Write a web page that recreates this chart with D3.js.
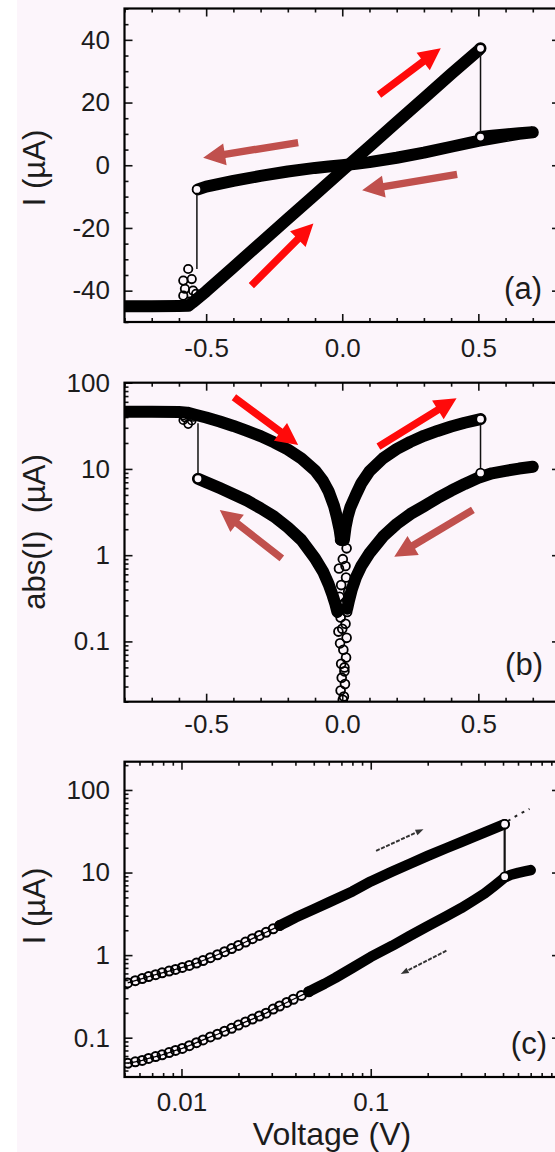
<!DOCTYPE html>
<html>
<head>
<meta charset="utf-8">
<script src="https://cdn.jsdelivr.net/npm/d3@7"></script>
<style>
  html, body { margin: 0; padding: 0; background: #fff; }
  svg { display: block; }
  text { font-family: "Liberation Sans", Arial, Helvetica, sans-serif; fill: #1c1c1c; }
</style>
</head>
<body>
<svg id="fig" width="555" height="1152"></svg>
<script>
// ---------- panel (a): I-V loop, linear axes ----------
const V_ON_A = [-0.80, -0.70, -0.60, -0.565, -0.55, -0.50, -0.40, -0.30, -0.20, -0.10, 0.00, 0.10, 0.20, 0.30, 0.40, 0.50, 0.508];
const I_ON_A = [-45.0, -45.0, -44.9, -44.8, -43.8, -40.2, -32.5, -24.8, -17.1, -9.4, -1.7, 6.0, 13.7, 21.4, 29.1, 36.6, 37.3];
const V_OFF_A = [0.508, 0.55, 0.60, 0.65, 0.70, 0.65, 0.60, 0.50, 0.40, 0.30, 0.20, 0.10, 0.05, 0.00, -0.05, -0.10, -0.20, -0.30, -0.40, -0.50, -0.53];
const I_OFF_A = [9.0, 9.4, 9.8, 10.2, 10.5, 10.0, 9.3, 7.8, 5.9, 4.0, 2.4, 1.0, 0.45, 0.0, -0.4, -0.85, -2.0, -3.4, -5.0, -6.8, -7.7];
// scattered points while switching back on at negative bias
const V_SET_A = [-0.566, -0.584, -0.553, -0.578, -0.548, -0.584, -0.537, -0.562];
const I_SET_A = [-33.1, -36.8, -36.3, -39.4, -40.0, -41.6, -41.0, -43.5];
// switching steps: [V, I from, I to]
const STEP_POS_A = [0.508, 37.3, 9.0];
const STEP_NEG_A = [-0.534, -7.7, -33.1];

// ---------- panel (b): |I| on log axis ----------
const V_ON_B = [-0.80, -0.70, -0.60, -0.57, -0.54, -0.50, -0.45, -0.40, -0.35, -0.30, -0.25, -0.20, -0.15, -0.10, -0.07, -0.05, -0.03, -0.02, -0.01, -0.004];
const I_ON_B = [46, 46, 45.8, 45, 42.5, 39.5, 35.5, 31.5, 27.6, 24.0, 20.3, 16.8, 13.2, 9.6, 7.2, 5.5, 3.7, 2.8, 2.0, 1.5];
const V_ON_B2 = [0.006, 0.012, 0.02, 0.03, 0.05, 0.07, 0.10, 0.15, 0.20, 0.25, 0.30, 0.35, 0.40, 0.45, 0.508];
const I_ON_B2 = [1.5, 2.1, 2.8, 3.6, 5.0, 6.8, 9.4, 13.3, 17.0, 20.6, 24.2, 27.6, 31.0, 34.3, 37.8];
const V_OFF_BL = [-0.53, -0.50, -0.45, -0.40, -0.35, -0.30, -0.25, -0.20, -0.15, -0.10, -0.07, -0.05, -0.035, -0.025, -0.018];
const I_OFF_BL = [7.7, 7.0, 6.0, 5.1, 4.3, 3.5, 2.8, 2.1, 1.5, 0.92, 0.64, 0.46, 0.34, 0.27, 0.22];
const V_OFF_BR = [0.018, 0.025, 0.035, 0.05, 0.07, 0.10, 0.15, 0.20, 0.25, 0.30, 0.35, 0.40, 0.45, 0.50, 0.55, 0.60, 0.65, 0.70];
const I_OFF_BR = [0.24, 0.30, 0.40, 0.55, 0.75, 1.05, 1.65, 2.3, 3.0, 3.7, 4.6, 5.6, 6.7, 7.9, 8.9, 9.5, 10.1, 10.6];
// points around zero bias
const V_ZERO_B = [0.006, -0.008, 0.016, 0.002, -0.012, 0.014, -0.004, 0.022, -0.010, 0.010, 0.018, -0.006, 0.012, -0.014, 0.016, -0.008, 0.004, 0.014, -0.004, 0.008, -0.002, 0.010, -0.006, 0.006, 0.002, 0.012, -0.010, 0.018, 0.000, 0.008];
const I_ZERO_B = [2.0, 1.5, 1.2, 0.9, 0.7, 0.55, 0.45, 0.38, 0.33, 0.28, 0.22, 0.19, 0.16, 0.13, 0.11, 0.095, 0.08, 0.065, 0.055, 0.045, 0.038, 0.032, 0.027, 0.023, 0.021, 0.75, 0.24, 0.3, 0.14, 0.05];
const STEP_POS_B = [0.508, 37.8, 9.0];
const STEP_NEG_B = [-0.53, 7.7, 33.8];

// ---------- panel (c): positive bias on log-log axes ----------
const V_ON_C = [0.0052, 0.0057, 0.0062, 0.0067, 0.0073, 0.0079, 0.0086, 0.0093, 0.0101, 0.011, 0.012, 0.013, 0.0142, 0.0155, 0.0169, 0.0184, 0.020, 0.0218, 0.0237, 0.0258, 0.028, 0.0305, 0.033, 0.036, 0.040, 0.05, 0.06, 0.08, 0.10, 0.13, 0.16, 0.20, 0.25, 0.30, 0.35, 0.40, 0.45, 0.51];
const I_ON_C = [0.46, 0.49, 0.52, 0.55, 0.58, 0.61, 0.64, 0.67, 0.71, 0.75, 0.80, 0.86, 0.93, 1.01, 1.10, 1.20, 1.31, 1.44, 1.58, 1.73, 1.89, 2.08, 2.28, 2.52, 2.85, 3.6, 4.35, 5.9, 7.8, 10.3, 12.7, 15.9, 19.7, 23.4, 27.0, 30.6, 34.2, 38.5];
const V_OFF_C = [0.0052, 0.0057, 0.0062, 0.0067, 0.0073, 0.0079, 0.0086, 0.0093, 0.0101, 0.011, 0.012, 0.013, 0.0142, 0.0155, 0.0169, 0.0184, 0.020, 0.0218, 0.0237, 0.0258, 0.028, 0.0305, 0.033, 0.036, 0.039, 0.043, 0.047, 0.052, 0.057, 0.065, 0.08, 0.10, 0.13, 0.16, 0.20, 0.25, 0.30, 0.35, 0.40, 0.45, 0.51, 0.55, 0.60, 0.65, 0.70];
const I_OFF_C = [0.049, 0.051, 0.053, 0.056, 0.059, 0.062, 0.066, 0.070, 0.074, 0.080, 0.087, 0.094, 0.102, 0.110, 0.120, 0.130, 0.142, 0.155, 0.168, 0.183, 0.198, 0.222, 0.242, 0.267, 0.292, 0.325, 0.36, 0.405, 0.45, 0.53, 0.70, 0.95, 1.3, 1.7, 2.25, 2.95, 3.7, 4.6, 5.6, 6.9, 8.7, 9.4, 9.9, 10.3, 10.7];
const V_EXT_C = [0.53, 0.60, 0.69];
const I_EXT_C = [42, 50, 59];
const STEP_POS_C = [0.51, 38.5, 8.9];

// ---------- axes ----------
const V_DOMAIN = [-0.8, 0.8];
const I_DOMAIN_A = [-50, 50];
const I_DOMAIN_B = [0.02, 100];
const V_DOMAIN_C = [0.005, 1];
const I_DOMAIN_C = [0.0334, 220];
const V_TICKS = [-0.5, 0, 0.5];
const I_TICKS_A = [-40, -20, 0, 20, 40];
const LOG_TICKS = [0.1, 1, 10, 100];
const V_TICKS_C = [0.01, 0.1];

// direction arrows: [V1, I1, V2, I2]
const ARROW_A_UP1 = [0.135, 22.5, 0.362, 37.3];
const ARROW_A_UP2 = [-0.334, -38.4, -0.106, -18.6];
const ARROW_A_BACK1 = [-0.162, 7.2, -0.511, 2.4];
const ARROW_A_BACK2 = [0.422, -2.9, 0.073, -8.0];
const ARROW_B_UP1 = [-0.398, 67.8, -0.162, 19.0];
const ARROW_B_UP2 = [0.133, 18.1, 0.42, 66];
const ARROW_B_BACK1 = [-0.222, 0.92, -0.45, 3.35];
const ARROW_B_BACK2 = [0.48, 3.35, 0.191, 0.96];
const ARROW_C_UP = [0.1067, 18.3, 0.19, 33.5];
const ARROW_C_DOWN = [0.251, 1.13, 0.144, 0.59];

const BG = "#fcf5fb";
const RED = "#ff0a0a";
const BROWN = "#c0504d";
const BAND = 12;

const svg = d3.select("#fig");
svg.append("rect").attr("width", 555).attr("height", 1152).attr("fill", BG);
svg.append("rect").attr("width", 17).attr("height", 1152).attr("fill", "#ffffff");

const XL = 124.5, XR = 560;
const zip = (a, b) => a.map((v, i) => [v, b[i]]);

const xLin = d3.scaleLinear().domain(V_DOMAIN).range([XL, XR]);
const yA = d3.scaleLinear().domain(I_DOMAIN_A).range([322, 8.5]);
const yB = d3.scaleLog().domain(I_DOMAIN_B).range([701.7, 382.7]);
const xC = d3.scaleLog().domain(V_DOMAIN_C).range([XL, XR]);
const yC = d3.scaleLog().domain(I_DOMAIN_C).range([1077, 761.7]);

const fmtV = d => d3.format(".1f")(d).replace("\u2212", "-");
const fmtI = d => String(d).replace("\u2212", "-");

function logMinors(domain) {
  const out = [];
  const lo = Math.floor(Math.log10(domain[0])), hi = Math.ceil(Math.log10(domain[1]));
  for (let e = lo; e <= hi; e++) {
    for (let m = 2; m <= 9; m++) {
      const v = m * Math.pow(10, e);
      if (v >= domain[0] * 0.999 && v <= domain[1] * 1.001) out.push(+v.toPrecision(3));
    }
  }
  return out;
}

function panel(id, x, y, opt) {
  const [y0, y1] = y.range();
  const g = svg.append("g").attr("id", id);
  const clipId = id + "-clip";
  svg.append("clipPath").attr("id", clipId)
    .append("rect").attr("x", XL).attr("y", y1).attr("width", XR - XL).attr("height", y0 - y1);

  const tickStyle = s => s.call(a => a.select(".domain").remove())
    .call(a => a.selectAll("line").attr("stroke", "#111").attr("stroke-width", 1.6));

  // unlabelled inward ticks
  const addTicks = (axisFn, scale, vals, size, pos) => {
    const ax = axisFn(scale).tickValues(vals).tickSize(-size).tickFormat(() => "");
    g.append("g").attr("transform", pos).call(ax).call(tickStyle);
  };
  addTicks(d3.axisBottom, x, opt.xMinor, 4, `translate(0,${y0})`);
  addTicks(d3.axisTop, x, opt.xMinor, 4, `translate(0,${y1})`);
  addTicks(d3.axisTop, x, opt.xMajor, 8, `translate(0,${y1})`);
  addTicks(d3.axisLeft, y, opt.yMinor, 4, `translate(${XL},0)`);
  addTicks(d3.axisRight, y, opt.yMinor, 4, `translate(${XR},0)`);
  addTicks(d3.axisRight, y, opt.yMajor, 8, `translate(${XR},0)`);

  // labelled axes
  const xb = d3.axisBottom(x).tickValues(opt.xMajor).tickSize(-8).tickPadding(opt.xPad).tickFormat(opt.xFmt);
  g.append("g").attr("class", "xlab").attr("transform", `translate(0,${y0})`).call(xb).call(tickStyle);
  const yl = d3.axisLeft(y).tickValues(opt.yMajor).tickSize(-8).tickPadding(14.5).tickFormat(opt.yFmt);
  g.append("g").attr("class", "ylab").attr("transform", `translate(${XL},0)`).call(yl).call(tickStyle);
  g.selectAll(".xlab text, .ylab text")
    .attr("fill", "#1c1c1c").attr("font-size", 26)
    .attr("font-family", '"Liberation Sans", Arial, Helvetica, sans-serif');

  // frame
  g.append("rect").attr("x", XL).attr("y", y1).attr("width", XR - XL).attr("height", y0 - y1)
    .attr("fill", "none").attr("stroke", "#000").attr("stroke-width", 2.2);

  const plot = svg.append("g").attr("clip-path", `url(#${clipId})`);
  return { g, plot };
}

function band(layer, pts, x, y, w) {
  layer.append("path")
    .attr("d", d3.line().x(d => x(d[0])).y(d => y(d[1]))(pts))
    .attr("fill", "none").attr("stroke", "#000").attr("stroke-width", w)
    .attr("stroke-linejoin", "round").attr("stroke-linecap", "round");
}

function rings(layer, pts, x, y, r, sw, fill) {
  layer.selectAll(null).data(pts).join("circle")
    .attr("cx", d => x(d[0])).attr("cy", d => y(d[1])).attr("r", r)
    .attr("fill", fill || "none").attr("stroke", "#000").attr("stroke-width", sw);
}

function step(layer, s, x, y, sw, ends) {
  layer.append("line")
    .attr("x1", x(s[0])).attr("x2", x(s[0])).attr("y1", y(s[1])).attr("y2", y(s[2]))
    .attr("stroke", "#111").attr("stroke-width", sw);
  if (ends) rings(layer, ends, x, y, 4.3, 1.8, BG);
}

function blockArrow(layer, a, x, y, color) {
  const x1 = x(a[0]), y1 = y(a[1]), x2 = x(a[2]), y2 = y(a[3]);
  const L = Math.hypot(x2 - x1, y2 - y1), ux = (x2 - x1) / L, uy = (y2 - y1) / L;
  const nx = -uy, ny = ux, hl = 22, hw = 11, sw = 3.7;
  const bx = x2 - ux * hl, by = y2 - uy * hl;
  const p = [
    [x1 + nx * sw, y1 + ny * sw], [bx + nx * sw, by + ny * sw], [bx + nx * hw, by + ny * hw],
    [x2, y2],
    [bx - nx * hw, by - ny * hw], [bx - nx * sw, by - ny * sw], [x1 - nx * sw, y1 - ny * sw]
  ];
  layer.append("polygon").attr("points", p.map(q => q.join(",")).join(" ")).attr("fill", color);
}

function thinArrow(layer, a, x, y) {
  const x1 = x(a[0]), y1 = y(a[1]), x2 = x(a[2]), y2 = y(a[3]);
  const L = Math.hypot(x2 - x1, y2 - y1), ux = (x2 - x1) / L, uy = (y2 - y1) / L;
  const nx = -uy, ny = ux, hl = 8, hw = 3;
  const bx = x2 - ux * hl, by = y2 - uy * hl;
  layer.append("line").attr("x1", x1).attr("y1", y1).attr("x2", bx).attr("y2", by)
    .attr("stroke", "#333").attr("stroke-width", 2).attr("stroke-dasharray", "4,1.5");
  layer.append("polygon")
    .attr("points", [[x2, y2], [bx + nx * hw, by + ny * hw], [bx - nx * hw, by - ny * hw]].map(q => q.join(",")).join(" "))
    .attr("fill", "#333");
}

function title(txt, x, yc, size, rotate) {
  const t = svg.append("text").text(txt).attr("font-size", size).attr("text-anchor", "middle")
    .style("white-space", "pre");
  if (rotate) t.attr("transform", `translate(${x},${yc}) rotate(-90)`);
  else t.attr("x", x).attr("y", yc);
  return t;
}

const linMinorV = d3.range(-8, 9).filter(k => k % 5 !== 0).map(k => k / 10);

// ----- panel (a) -----
{
  const { plot } = panel("pa", xLin, yA, {
    xMajor: V_TICKS, xMinor: linMinorV,
    yMajor: I_TICKS_A, yMinor: d3.range(-10, 11).filter(k => k % 4 !== 0).map(k => k * 5),
    xFmt: fmtV, yFmt: fmtI, xPad: 16.5
  });
  band(plot, zip(V_ON_A, I_ON_A), xLin, yA, BAND);
  band(plot, zip(V_OFF_A, I_OFF_A), xLin, yA, BAND);
  step(plot, STEP_POS_A, xLin, yA, 1.5, [[STEP_POS_A[0], STEP_POS_A[1]], [STEP_POS_A[0], STEP_POS_A[2]]]);
  step(plot, STEP_NEG_A, xLin, yA, 1.5, [[STEP_NEG_A[0], STEP_NEG_A[1]]]);
  rings(plot, zip(V_SET_A, I_SET_A), xLin, yA, 4.2, 1.8, "none");
  blockArrow(plot, ARROW_A_UP1, xLin, yA, RED);
  blockArrow(plot, ARROW_A_UP2, xLin, yA, RED);
  blockArrow(plot, ARROW_A_BACK1, xLin, yA, BROWN);
  blockArrow(plot, ARROW_A_BACK2, xLin, yA, BROWN);
  svg.append("text").text("(a)").attr("x", 542).attr("y", 299).attr("text-anchor", "end").attr("font-size", 31);
}

// ----- panel (b) -----
{
  const { plot } = panel("pb", xLin, yB, {
    xMajor: V_TICKS, xMinor: linMinorV,
    yMajor: LOG_TICKS, yMinor: logMinors(I_DOMAIN_B),
    xFmt: fmtV, yFmt: d => String(d), xPad: 13
  });
  band(plot, zip(V_ON_B, I_ON_B), xLin, yB, BAND);
  band(plot, zip(V_ON_B2, I_ON_B2), xLin, yB, BAND);
  band(plot, zip(V_OFF_BL, I_OFF_BL), xLin, yB, BAND);
  band(plot, zip(V_OFF_BR, I_OFF_BR), xLin, yB, BAND);
  rings(plot, zip(V_ZERO_B, I_ZERO_B), xLin, yB, 4.4, 1.8, "none");
  rings(plot, zip(V_SET_A, I_SET_A.map(Math.abs)), xLin, yB, 4, 1.7, "none");
  step(plot, STEP_POS_B, xLin, yB, 1.5, [[STEP_POS_B[0], STEP_POS_B[1]], [STEP_POS_B[0], STEP_POS_B[2]]]);
  step(plot, STEP_NEG_B, xLin, yB, 1.5, [[STEP_NEG_B[0], STEP_NEG_B[1]]]);
  blockArrow(plot, ARROW_B_UP1, xLin, yB, RED);
  blockArrow(plot, ARROW_B_UP2, xLin, yB, RED);
  blockArrow(plot, ARROW_B_BACK1, xLin, yB, BROWN);
  blockArrow(plot, ARROW_B_BACK2, xLin, yB, BROWN);
  svg.append("text").text("(b)").attr("x", 543).attr("y", 675).attr("text-anchor", "end").attr("font-size", 31);
}

// ----- panel (c) -----
{
  const { plot } = panel("pc", xC, yC, {
    xMajor: V_TICKS_C, xMinor: logMinors(V_DOMAIN_C),
    yMajor: LOG_TICKS, yMinor: logMinors(I_DOMAIN_C),
    xFmt: d => String(d), yFmt: d => String(d), xPad: 16
  });
  const on = zip(V_ON_C, I_ON_C), off = zip(V_OFF_C, I_OFF_C);
  const thin = d3.line().x(d => xC(d[0])).y(d => yC(d[1]));
  // sparse low-bias points are drawn as rings, the dense part as a solid band
  plot.append("path").attr("d", thin(on)).attr("fill", "none").attr("stroke", "#000").attr("stroke-width", 1.3);
  plot.append("path").attr("d", thin(off)).attr("fill", "none").attr("stroke", "#000").attr("stroke-width", 1.3);
  rings(plot, on.filter(d => d[0] < 0.036), xC, yC, 4.5, 2, "none");
  rings(plot, off.filter(d => d[0] < 0.052), xC, yC, 4.5, 2, "none");
  band(plot, on.filter(d => d[0] >= 0.033), xC, yC, 10.5);
  band(plot, off.filter(d => d[0] >= 0.047), xC, yC, 10.5);
  plot.append("path").attr("d", thin(zip(V_EXT_C, I_EXT_C)))
    .attr("fill", "none").attr("stroke", "#222").attr("stroke-width", 2).attr("stroke-dasharray", "3,5");
  step(plot, STEP_POS_C, xC, yC, 2.2, [[STEP_POS_C[0], STEP_POS_C[1]], [STEP_POS_C[0], STEP_POS_C[2]]]);
  thinArrow(plot, ARROW_C_UP, xC, yC);
  thinArrow(plot, ARROW_C_DOWN, xC, yC);
  svg.append("text").text("(c)").attr("x", 547).attr("y", 1054).attr("text-anchor", "end").attr("font-size", 31);
}

// axis titles
title("I (\u00b5A)", 45, 168, 31, true);
title("abs(I)  (\u00b5A)", 45, 532, 31, true);
title("I (\u00b5A)", 45, 906, 31, true);
title("Voltage (V)", 332, 1145, 32, false);
</script>
</body>
</html>
